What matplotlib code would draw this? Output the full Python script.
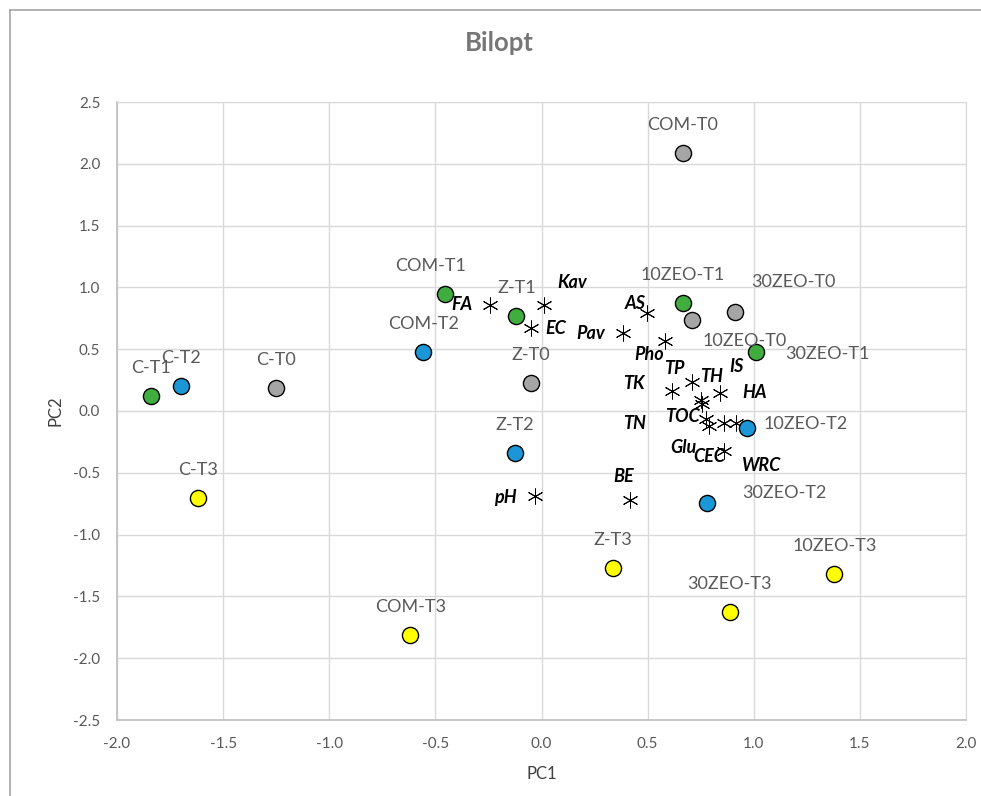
import matplotlib
matplotlib.use("Agg")
import matplotlib.pyplot as plt
from matplotlib.lines import Line2D

plt.rcParams['font.family'] = ['Lato', 'DejaVu Sans']

# amostras (scores)
amostras = ['C-T0', 'C-T1', 'C-T2', 'C-T3',
            'COM-T0', 'COM-T1', 'COM-T2', 'COM-T3',
            'Z-T0', 'Z-T1', 'Z-T2', 'Z-T3',
            '10ZEO-T0', '10ZEO-T1', '10ZEO-T2', '10ZEO-T3',
            '30ZEO-T0', '30ZEO-T1', '30ZEO-T2', '30ZEO-T3']
pc1_amostras = [-1.25, -1.84, -1.70, -1.62,
                0.665, -0.455, -0.557, -0.618,
                -0.05, -0.118, -0.124, 0.335,
                0.707, 0.666, 0.969, 1.38,
                0.912, 1.01, 0.78, 0.886]
pc2_amostras = [0.19, 0.125, 0.206, -0.706,
                2.09, 0.95, 0.48, -1.81,
                0.23, 0.77, -0.34, -1.27,
                0.74, 0.875, -0.136, -1.315,
                0.80, 0.476, -0.745, -1.63]
tempo = ['T0', 'T1', 'T2', 'T3'] * 5

# variaveis (loadings)
variaveis = ['FA', 'Kav', 'EC', 'AS', 'Pav', 'Pho', 'TK', 'TP', 'TH',
             'IS', 'HA', 'TN', 'TOC', 'Glu', 'CEC', 'WRC', 'pH', 'BE']
pc1_var = [-0.242, 0.011, -0.050, 0.498, 0.386, 0.580, 0.613, 0.707, 0.750,
           0.843, 0.917, 0.755, 0.773, 0.787, 0.859, 0.859, -0.031, 0.417]
pc2_var = [0.858, 0.858, 0.670, 0.794, 0.633, 0.568, 0.163, 0.233, 0.085,
           0.142, -0.095, 0.053, -0.063, -0.123, -0.095, -0.320, -0.684, -0.719]

cores = {'T0': '#a5a5a5', 'T1': '#3fae3f', 'T2': '#1b96d6', 'T3': '#ffff00'}

# deslocamento dos rotulos (pixels)
desl_amostras = {'COM-T1': (-14, 28), '10ZEO-T0': (53, -21), '10ZEO-T2': (58, 4),
                 '30ZEO-T0': (58, 30), '30ZEO-T1': (72, -2), '30ZEO-T2': (77, 10)}
desl_var = [(-28, 0), (28, 22), (25, 0), (-12, 9), (-33, -1), (-15, -14),
            (-38, 7), (-17, 14), (11, 24), (16, 27), (18, 30), (-67, -19),
            (-23, 2), (-25, -21), (-15, -34), (38, -15), (-30, -2), (-6, 23)]

fig = plt.figure(figsize=(9.81, 7.96), dpi=100)
ax = fig.add_axes([117 / 981, 1 - 720 / 796, 849 / 981, 618 / 796])

cinza = '#595959'

for nome, x, y, t in zip(amostras, pc1_amostras, pc2_amostras, tempo):
    ax.scatter(x, y, s=135, color=cores[t], edgecolors='black', linewidths=1.0, zorder=4)
    dx, dy = desl_amostras.get(nome, (0, 28))
    ax.annotate(nome, (x, y), xytext=(dx, dy), textcoords='offset pixels',
                ha='center', va='center', fontsize=13, color=cinza, zorder=5)

ax.scatter(pc1_var, pc2_var, marker=(6, 2, 0), s=120, color='black',
           linewidths=0.7, zorder=3)
for nome, x, y, (dx, dy) in zip(variaveis, pc1_var, pc2_var, desl_var):
    ax.annotate(nome, (x, y), xytext=(dx, dy), textcoords='offset pixels',
                ha='center', va='center', fontsize=13, color='black',
                fontweight='bold', fontstyle='italic', zorder=5)

ax.set_xlim(-2.0, 2.0)
ax.set_ylim(-2.5, 2.5)
ax.set_xticks([-2.0, -1.5, -1.0, -0.5, 0.0, 0.5, 1.0, 1.5, 2.0])
ax.set_yticks([-2.5, -2.0, -1.5, -1.0, -0.5, 0.0, 0.5, 1.0, 1.5, 2.0, 2.5])
ax.xaxis.set_major_formatter(matplotlib.ticker.FormatStrFormatter('%.1f'))
ax.yaxis.set_major_formatter(matplotlib.ticker.FormatStrFormatter('%.1f'))
ax.tick_params(length=0, labelsize=11, labelcolor=cinza, pad=12)
ax.grid(True, color='#d9d9d9', linewidth=1.0, zorder=0)
ax.set_axisbelow(True)
for lado in ['top', 'right']:
    ax.spines[lado].set_color('#d9d9d9')
for lado in ['left', 'bottom']:
    ax.spines[lado].set_color('#bfbfbf')
    ax.spines[lado].set_linewidth(1.2)

ax.set_xlabel('PC1', fontsize=12, color='#404040', labelpad=11)
ax.set_ylabel('PC2', fontsize=12, color='#404040', labelpad=7)
fig.text(499 / 981, 1 - 43 / 796, 'Bilopt', ha='center', va='center',
         fontsize=18.5, fontweight='bold', color='#767676')

# moldura do grafico
fig.add_artist(Line2D([10 / 981, 10 / 981], [0, 1 - 10 / 796], color='#a6a6a6', lw=1.2))
fig.add_artist(Line2D([10 / 981, 1], [1 - 10 / 796, 1 - 10 / 796], color='#a6a6a6', lw=1.2))

fig.savefig('out.png', dpi=100)
